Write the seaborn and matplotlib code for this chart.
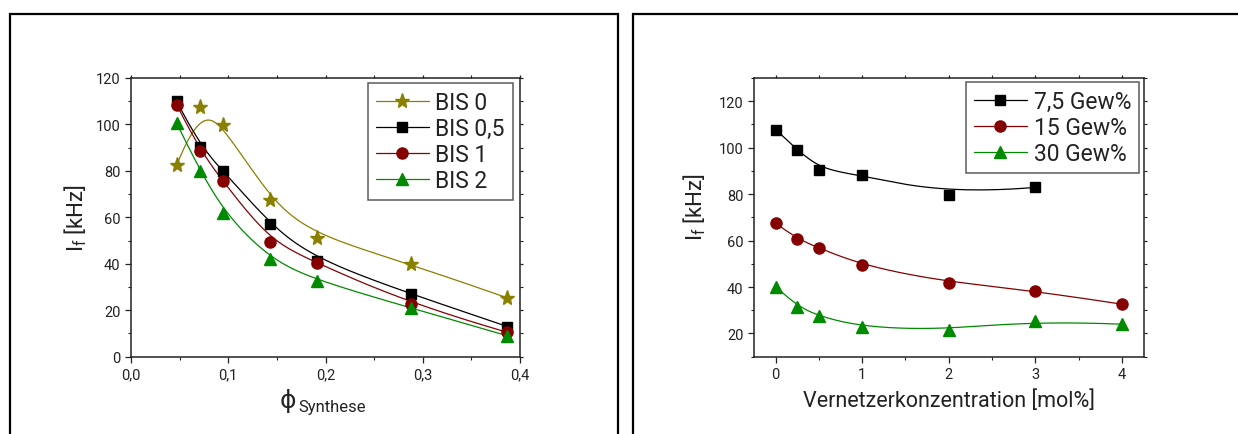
import numpy as np
import matplotlib
matplotlib.use("Agg")
import matplotlib.pyplot as plt
from matplotlib.lines import Line2D
from matplotlib.patches import Rectangle
from matplotlib.ticker import MultipleLocator
import seaborn as sns

# ---------------- data (left panel) ----------------
phi_synthese = [0.047, 0.071, 0.095, 0.143, 0.191, 0.288, 0.387]
bis_0 = [82.5, 107.6, 99.8, 67.5, 51.0, 40.0, 25.3]
bis_05 = [110.0, 90.5, 80.0, 57.0, 41.0, 27.0, 13.0]
bis_1 = [108.5, 88.5, 75.5, 49.5, 40.5, 22.5, 10.5]
bis_2 = [100.5, 80.0, 62.0, 42.0, 32.5, 21.0, 9.0]
left_labels = ["BIS 0", "BIS 0,5", "BIS 1", "BIS 2"]
left_xticks = [0.0, 0.1, 0.2, 0.3, 0.4]
left_xticklabels = ["0,0", "0,1", "0,2", "0,3", "0,4"]
left_yticks = [0, 20, 40, 60, 80, 100, 120]

# ---------------- data (right panel) ----------------
vernetzer_75 = [0, 0.25, 0.5, 1, 2, 3]
gew_75 = [107.8, 99.1, 90.3, 88.4, 79.8, 82.9]
vernetzer = [0, 0.25, 0.5, 1, 2, 3, 4]
gew_15 = [67.5, 60.6, 56.9, 49.3, 41.8, 38.4, 32.6]
gew_30 = [40.2, 31.5, 27.4, 22.7, 21.3, 25.5, 24.0]
right_labels = ["7,5 Gew%", "15 Gew%", "30 Gew%"]
right_xticks = [0, 1, 2, 3, 4]
right_yticks = [20, 40, 60, 80, 100, 120]

OLIVE = "#8a8000"
BLACK = "#000000"
WINE = "#850000"
GREEN = "#008a00"
TXT = "#222222"


def bspline(xs, ys, n=300, k=3):
    """Clamped uniform cubic B-spline using the data points as control points."""
    P = np.column_stack([xs, ys]).astype(float)
    m = len(P)
    knots = np.concatenate([np.zeros(k), np.linspace(0, 1, m - k + 1), np.ones(k)])
    out = []
    for t in np.linspace(0, 1, n):
        s = np.searchsorted(knots, t, side="right") - 1
        s = min(s, m - 1)
        d = [P[j + s - k].copy() for j in range(k + 1)]
        for r in range(1, k + 1):
            for j in range(k, r - 1, -1):
                denom = knots[j + 1 + s - r] - knots[j + s - k]
                alpha = (t - knots[j + s - k]) / denom if denom else 0.0
                d[j] = (1 - alpha) * d[j - 1] + alpha * d[j]
        out.append(d[k])
    out = np.array(out)
    return out[:, 0], out[:, 1]


sns.set_theme(style="white")
plt.rcParams["font.family"] = ["Roboto", "DejaVu Sans"]
plt.rcParams["mathtext.default"] = "regular"

W, H = 1238, 435
fig = plt.figure(figsize=(W / 100, H / 100), dpi=100)


def fx(px):
    return px / W


def fy(py):
    return 1 - py / H


# outer frames
fig.add_artist(Rectangle((fx(10), -0.2), fx(618) - fx(10), fy(15) + 0.2,
                         transform=fig.transFigure, fill=False, lw=1.6,
                         edgecolor="black", clip_on=False))
fig.add_artist(Rectangle((fx(633), -0.2), 0.6, fy(15) + 0.2,
                         transform=fig.transFigure, fill=False, lw=1.6,
                         edgecolor="black", clip_on=False))

axL = fig.add_axes([fx(131), fy(357.7), fx(520) - fx(131), fy(79) - fy(357.7)])
axR = fig.add_axes([fx(754), fy(357.7), fx(1143.5) - fx(754), fy(79) - fy(357.7)])


def draw_series(ax, xs, ys, color, marker, ms):
    cx, cy = bspline(xs, ys)
    sns.lineplot(x=cx, y=cy, sort=False, estimator=None, color=color, lw=0.9, ax=ax)
    ax.plot(xs, ys, linestyle="none", marker=marker, ms=ms, color=color,
            markeredgecolor=color, zorder=5)


left_series = [(bis_0, OLIVE, "*", 11), (bis_05, BLACK, "s", 7.5),
               (bis_1, WINE, "o", 8), (bis_2, GREEN, "^", 8.5)]
for ys, c, mk, ms in left_series:
    draw_series(axL, phi_synthese, ys, c, mk, ms)

right_series = [(vernetzer_75, gew_75, BLACK, "s", 7.5),
                (vernetzer, gew_15, WINE, "o", 8),
                (vernetzer, gew_30, GREEN, "^", 8.5)]
for xs, ys, c, mk, ms in right_series:
    draw_series(axR, xs, ys, c, mk, ms)

# axes styling
for ax in (axL, axR):
    for sp in ax.spines.values():
        sp.set_visible(True)
        sp.set_color("#222222")
        sp.set_linewidth(1.1)
    ax.tick_params(which="major", direction="out", length=4.5, width=0.9,
                   colors="#222222", labelcolor=TXT, labelsize=10.5, pad=3,
                   bottom=True, left=True)
    ax.tick_params(which="minor", direction="out", length=2.5, width=0.8,
                   colors="#222222", bottom=True, left=True)
    ax.tick_params(which="both", top=True, right=True, labeltop=False, labelright=False)
    ax.grid(False)

axL.set_xlim(0, 0.4)
axL.set_ylim(0, 120)
axL.set_xticks(left_xticks)
axL.set_xticklabels(left_xticklabels)
axL.set_yticks(left_yticks)
axL.xaxis.set_minor_locator(MultipleLocator(0.05))
axL.yaxis.set_minor_locator(MultipleLocator(10))

axR.set_xlim(-0.25, 4.25)
axR.set_ylim(10, 130)
axR.set_xticks(right_xticks)
axR.set_yticks(right_yticks)
axR.xaxis.set_minor_locator(MultipleLocator(0.5))
axR.yaxis.set_minor_locator(MultipleLocator(10))

for ax in (axL, axR):
    # short, faint ticks on top/right
    for tk in ax.xaxis.get_major_ticks() + ax.xaxis.get_minor_ticks():
        tk.tick2line.set_markersize(2)
        tk.tick2line.set_color("#555555")
    for tk in ax.yaxis.get_major_ticks() + ax.yaxis.get_minor_ticks():
        tk.tick2line.set_markersize(2)
        tk.tick2line.set_color("#555555")

for ax in (axL, axR):
    ax.set_xlabel("")
    ax.set_ylabel("I$_\\mathregular{f}$ [kHz]", fontsize=16, color=TXT)
axL.yaxis.set_label_coords(-0.108, 0.5)
axR.yaxis.set_label_coords(-0.118, 0.54)

axR.set_xlabel("Vernetzerkonzentration [mol%]", fontsize=15.5, color=TXT, labelpad=6)

# left x label: phi with subscript
axL.text(0.404, -0.155, "ϕ", transform=axL.transAxes, fontsize=18,
         ha="center", va="center", color=TXT, family=["DejaVu Sans"])
axL.text(0.43, -0.18, "Synthese", transform=axL.transAxes, fontsize=12,
         ha="left", va="center", color=TXT)


# legends
def make_handles(series):
    hs = []
    for s in series:
        c, mk, ms = s[-3], s[-2], s[-1]
        hs.append(Line2D([0], [0], color=c, lw=0.9, marker=mk, ms=ms,
                         markeredgecolor=c))
    return hs


leg_kw = dict(loc="upper right", borderaxespad=0, fontsize=16.5,
              frameon=True, fancybox=False, edgecolor="#333333",
              handlelength=2.3, handletextpad=0.3, labelspacing=0.13,
              borderpad=0.35, numpoints=1)

legL = axL.legend(make_handles(left_series), left_labels,
                  bbox_to_anchor=(0.982, 0.982), **leg_kw)
legR = axR.legend(make_handles(right_series), right_labels,
                  bbox_to_anchor=(0.989, 0.987), **leg_kw)
for leg in (legL, legR):
    leg.get_frame().set_linewidth(1.1)
    for t in leg.get_texts():
        t.set_color(TXT)

fig.savefig("out.png", dpi=100)
